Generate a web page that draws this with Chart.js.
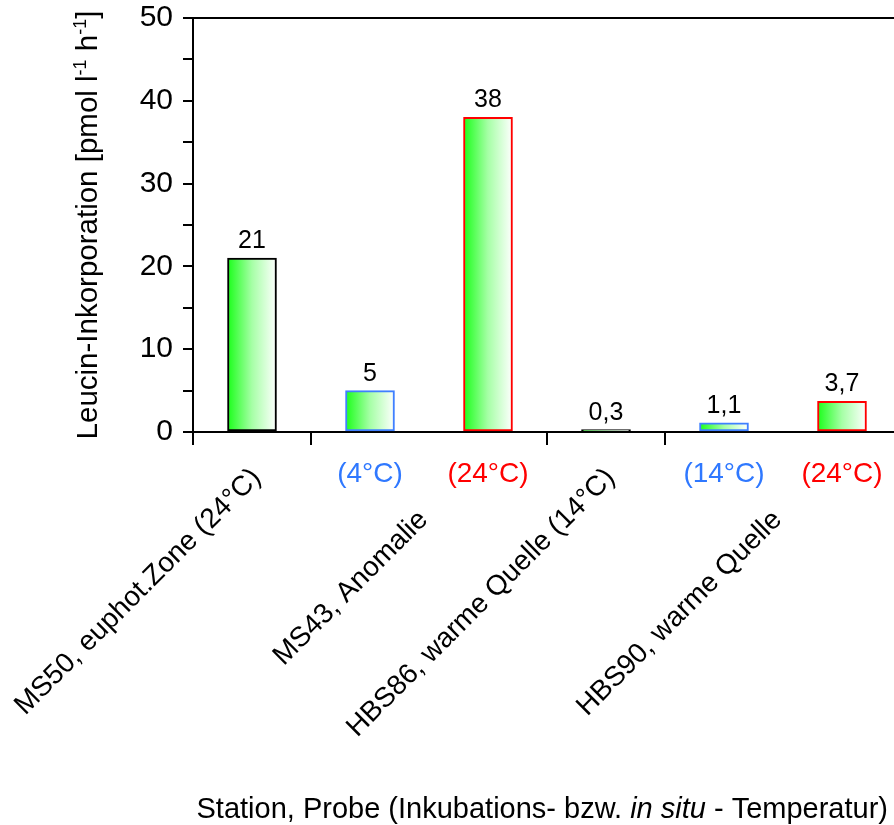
<!DOCTYPE html>
<html lang="de">
<head>
<meta charset="utf-8">
<title>Leucin-Inkorporation</title>
<script src="https://cdn.jsdelivr.net/npm/chart.js@4.4.1/dist/chart.umd.min.js"></script>
<style>
    html, body { margin: 0; padding: 0; background: #fff; overflow: hidden; }
    #chart { display: block; }
</style>
</head>
<body>
<canvas id="chart" width="901" height="825"></canvas>
<script>
// Chart data
const categories = ['MS50 (24°C)', 'MS43 (4°C)', 'MS43 (24°C)', 'HBS86 (14°C)', 'HBS90 (14°C)', 'HBS90 (24°C)'];
const leucinValues = [21, 5, 38, 0.3, 1.1, 3.7];
const valueLabels = ['21', '5', '38', '0,3', '1,1', '3,7'];
const tempLabels = ['', '(4°C)', '(24°C)', '', '(14°C)', '(24°C)'];
const groupLabels = ['MS50, euphot.Zone (24°C)', 'MS43, Anomalie', 'HBS86, warme Quelle (14°C)', 'HBS90, warme Quelle'];
const groupFirst = [0, 1, 3, 4];
const groupLast = [0, 2, 3, 5];
const yMax = 50;
const yStep = 5;

(function() {
    'use strict';

    const FONT = '"Liberation Sans", Arial, sans-serif';
    const BLUE = '#2f78ff';
    const RED = '#ff0000';
    const borderColors = ['#000000', '#3f80ff', RED, '#000000', '#3f80ff', RED];
    const tempColors = ['#000', BLUE, RED, '#000', BLUE, RED];
    const BAR_W = 49;

    // Green-to-white gradient across each bar
    function barGradient(context) {
        const chart = context.chart;
        if (!chart.chartArea || !chart.scales.x) return '#33ff33';
        const x = chart.scales.x.getPixelForValue(context.dataIndex);
        const g = chart.ctx.createLinearGradient(x - BAR_W / 2, 0, x + BAR_W / 2, 0);
        g.addColorStop(0, '#1aff1a');
        g.addColorStop(0.5, '#a6ffa6');
        g.addColorStop(1, '#ffffff');
        return g;
    }

    // Draw text pieces in a row (normal / italic / superscript)
    function drawPieces(ctx, pieces, x, y, align) {
        let total = 0;
        pieces.forEach(p => {
            ctx.font = p.font;
            p.w = ctx.measureText(p.text).width;
            total += p.w;
        });
        let cx = align === 'right' ? x - total : (align === 'center' ? x - total / 2 : x);
        ctx.textAlign = 'left';
        pieces.forEach(p => {
            ctx.font = p.font;
            ctx.fillText(p.text, cx, y + (p.dy || 0));
            cx += p.w;
        });
    }

    const decorations = {
        id: 'decorations',
        afterDraw(chart) {
            const ctx = chart.ctx;
            const area = chart.chartArea;
            const xs = chart.scales.x;
            const ys = chart.scales.y;
            const meta = chart.getDatasetMeta(0);
            const step = xs.getPixelForValue(1) - xs.getPixelForValue(0);
            const base = ys.getPixelForValue(0);
            const top = ys.getPixelForValue(yMax);

            ctx.save();
            ctx.fillStyle = '#000';
            ctx.strokeStyle = '#000';
            ctx.lineWidth = 2;

            // frame line along the top of the plot
            ctx.fillRect(area.left, top - 1, area.right - area.left, 2);

            // value labels above bars
            ctx.font = '25px ' + FONT;
            ctx.textAlign = 'center';
            ctx.textBaseline = 'alphabetic';
            meta.data.forEach((bar, i) => {
                ctx.fillText(valueLabels[i], bar.x, bar.y - 10);
            });

            // group separator ticks under the x axis
            groupFirst.forEach(i => {
                const x = xs.getPixelForValue(i) - step / 2;
                ctx.beginPath();
                ctx.moveTo(x, base);
                ctx.lineTo(x, base + 13);
                ctx.stroke();
            });

            // temperature labels under bars
            ctx.font = '28px ' + FONT;
            ctx.textBaseline = 'middle';
            tempLabels.forEach((t, i) => {
                if (!t) return;
                ctx.fillStyle = tempColors[i];
                ctx.fillText(t, xs.getPixelForValue(i), base + 42);
            });

            // rotated station labels
            ctx.fillStyle = '#000';
            ctx.font = '28px ' + FONT;
            ctx.textAlign = 'right';
            ctx.textBaseline = 'alphabetic';
            groupLabels.forEach((label, g) => {
                const a = groupFirst[g], b = groupLast[g];
                const cx = (xs.getPixelForValue(a) + xs.getPixelForValue(b)) / 2;
                const single = a === b;
                ctx.save();
                ctx.translate(single ? cx + 10 : cx, single ? base + 47 : base + 89);
                ctx.rotate(-Math.PI / 4);
                ctx.fillText(label, 0, 0);
                ctx.restore();
            });

            // y axis title with superscripts
            const f = '29.5px ' + FONT;
            const fs = '18px ' + FONT;
            ctx.save();
            ctx.translate(97, (area.top + area.bottom) / 2);
            ctx.rotate(-Math.PI / 2);
            drawPieces(ctx, [
                { text: 'Leucin-Inkorporation [pmol l', font: f },
                { text: '-1', font: fs, dy: -11 },
                { text: ' h', font: f },
                { text: '-1', font: fs, dy: -11 },
                { text: ']', font: f }
            ], 0, 0, 'center');
            ctx.restore();

            // x axis title with italic "in situ"
            const fx = '29px ' + FONT;
            drawPieces(ctx, [
                { text: 'Station, Probe (Inkubations- bzw. ', font: fx },
                { text: 'in situ', font: 'italic 29px ' + FONT },
                { text: ' - Temperatur)', font: fx }
            ], 888, 818, 'right');

            ctx.restore();
        }
    };

    function initChart() {
        const canvas = document.getElementById('chart');
        new Chart(canvas.getContext('2d'), {
            type: 'bar',
            data: {
                labels: categories,
                datasets: [{
                    data: leucinValues,
                    backgroundColor: barGradient,
                    borderColor: borderColors,
                    borderWidth: 2,
                    borderSkipped: false,
                    barThickness: BAR_W
                }]
            },
            options: {
                responsive: false,
                animation: false,
                layout: { padding: { top: 18, left: 0, right: 0, bottom: 0 } },
                plugins: {
                    legend: { display: false },
                    tooltip: { enabled: false }
                },
                scales: {
                    x: {
                        offset: true,
                        grid: { display: false },
                        border: { display: true, color: '#000', width: 2 },
                        ticks: { display: false },
                        afterFit(scale) { scale.height = 825 - 432; }
                    },
                    y: {
                        min: 0,
                        max: yMax,
                        border: { display: true, color: '#000', width: 2 },
                        grid: {
                            drawOnChartArea: false,
                            color: '#000',
                            tickLength: 10,
                            lineWidth: 2
                        },
                        ticks: {
                            stepSize: yStep,
                            padding: 10,
                            color: '#000',
                            font: { family: FONT, size: 30, lineHeight: 1 },
                            callback: v => (v % 10 === 0 ? v : '')
                        },
                        afterFit(scale) {
                            scale.width = 193;
                            scale.paddingTop = 0;
                            scale.paddingBottom = 0;
                        }
                    }
                }
            },
            plugins: [decorations]
        });
    }

    document.addEventListener('DOMContentLoaded', initChart);
})();
</script>
</body>
</html>
